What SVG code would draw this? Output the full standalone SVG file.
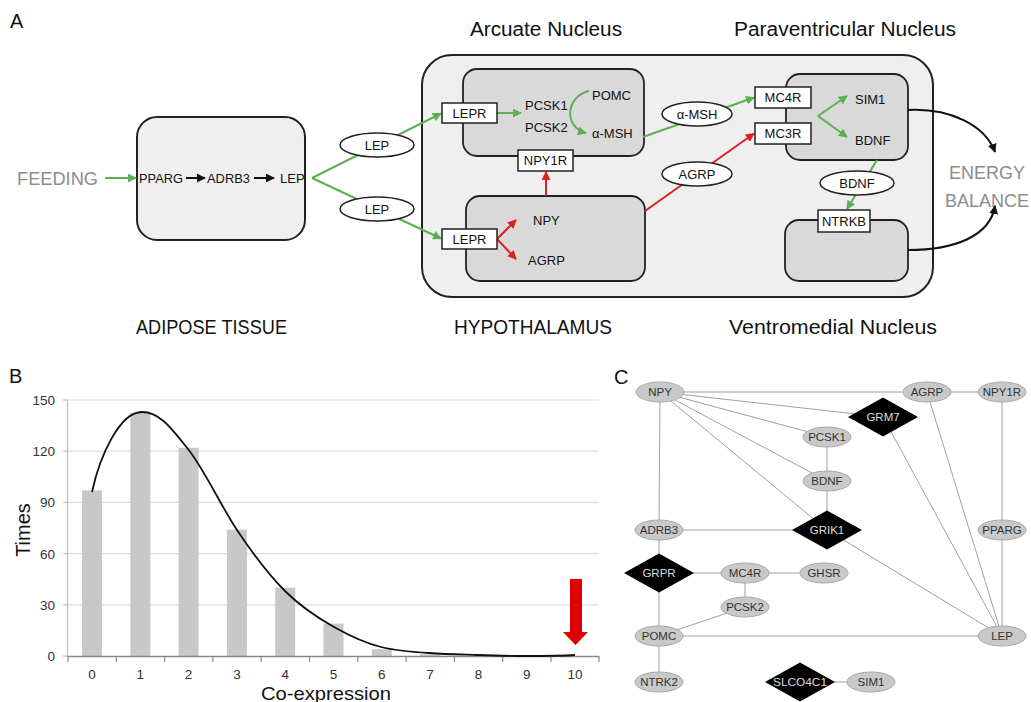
<svg xmlns="http://www.w3.org/2000/svg" width="1031" height="702" viewBox="0 0 1031 702">
<defs>
<style>
text{font-family:"Liberation Sans",Arial,sans-serif;}
.lbl{font-size:13px;fill:#111;}
.ttl{font-size:20px;fill:#111;}
.gry{font-size:18px;fill:#8c8c8c;}
.pan{font-size:20px;fill:#111;}
.big{fill:#efefef;stroke:#222;stroke-width:2;}
.cell{fill:#d9d9d9;stroke:#222;stroke-width:1.8;}
.rec{fill:#fff;stroke:#222;stroke-width:1.5;}
.ell{fill:#fff;stroke:#222;stroke-width:1.5;}
.g{stroke:#5bb04f;stroke-width:2;fill:none;}
.r{stroke:#e02020;stroke-width:2;fill:none;}
.k{stroke:#111;stroke-width:2;fill:none;}
.grid{stroke:#dcdcdc;stroke-width:1.2;}
.bar{fill:#c8c8c8;}
.tk{font-size:13.5px;fill:#333;}
.cn{fill:#c9c9c9;stroke:#a8a8a8;stroke-width:1;}
.cd{fill:#000;}
.ct{font-size:11.5px;fill:#333;text-anchor:middle;}
.cdt{font-size:11.5px;fill:#ddd;text-anchor:middle;}
.ce{stroke:#a0a0a0;stroke-width:1;fill:none;}
</style>
<marker id="ag" viewBox="0 0 10 10" refX="9" refY="5" markerWidth="4.5" markerHeight="4.5" orient="auto" markerUnits="strokeWidth"><path d="M0,0 L10,5 L0,10 z" fill="#5bb04f"/></marker>
<marker id="ar" viewBox="0 0 10 10" refX="9" refY="5" markerWidth="4.5" markerHeight="4.5" orient="auto" markerUnits="strokeWidth"><path d="M0,0 L10,5 L0,10 z" fill="#e02020"/></marker>
<marker id="ak" viewBox="0 0 10 10" refX="9" refY="5" markerWidth="4.5" markerHeight="4.5" orient="auto" markerUnits="strokeWidth"><path d="M0,0 L10,5 L0,10 z" fill="#111"/></marker>
</defs>

<!-- Panel A -->
<g id="panelA">
<text class="pan" x="10" y="28">A</text>
<text class="ttl" x="470" y="36" textLength="152" lengthAdjust="spacingAndGlyphs">Arcuate Nucleus</text>
<text class="ttl" x="734" y="36" textLength="222" lengthAdjust="spacingAndGlyphs">Paraventricular Nucleus</text>
<text class="ttl" x="136" y="334" textLength="151" lengthAdjust="spacingAndGlyphs">ADIPOSE TISSUE</text>
<text class="ttl" x="454" y="334" textLength="158" lengthAdjust="spacingAndGlyphs">HYPOTHALAMUS</text>
<text class="ttl" x="729" y="334" textLength="208" lengthAdjust="spacingAndGlyphs">Ventromedial Nucleus</text>

<g id="feeding"><text class="gry" x="17" y="184.5" textLength="81" lengthAdjust="spacingAndGlyphs">FEEDING</text></g>
<g id="energy"><text class="gry" x="987" y="178.5" text-anchor="middle">ENERGY</text><text class="gry" x="987" y="206.5" text-anchor="middle">BALANCE</text></g>

<g id="adipose">
<rect class="big" x="137" y="117" width="168" height="123" rx="20"/>
<text class="lbl" x="139" y="182.7" textLength="44" lengthAdjust="spacingAndGlyphs">PPARG</text>
<text class="lbl" x="207" y="182.7" textLength="43" lengthAdjust="spacingAndGlyphs">ADRB3</text>
<text class="lbl" x="280" y="182.7">LEP</text>
</g>

<g id="hypothalamus"><rect class="big" x="422" y="55" width="511" height="242" rx="30"/></g>

<g id="pomcNeuron">
<rect class="cell" x="463" y="69" width="181" height="87" rx="14"/>
<text class="lbl" x="525" y="109.5">PCSK1</text>
<text class="lbl" x="525" y="131.5">PCSK2</text>
<text class="lbl" x="592" y="99.5">POMC</text>
<text class="lbl" x="592" y="138">α-MSH</text>
</g>
<g id="npyNeuron">
<rect class="cell" x="466" y="196" width="179" height="85" rx="14"/>
<text class="lbl" x="533" y="224.5">NPY</text>
<text class="lbl" x="528" y="264.5">AGRP</text>
</g>
<g id="pvn">
<rect class="cell" x="786" y="74" width="122" height="86" rx="14"/>
<text class="lbl" x="855" y="103.5">SIM1</text>
<text class="lbl" x="855" y="144.5">BDNF</text>
</g>
<g id="vmn"><rect class="cell" x="785" y="220" width="123" height="61" rx="14"/></g>

<g id="connectorsA">
<line class="g" x1="105" y1="178" x2="136" y2="178" marker-end="url(#ag)"/>
<line class="k" x1="186" y1="178" x2="205" y2="178" marker-end="url(#ak)"/>
<line class="k" x1="254" y1="178" x2="274" y2="178" marker-end="url(#ak)"/>
<line class="g" x1="312" y1="178" x2="441" y2="113.5" marker-end="url(#ag)"/>
<line class="g" x1="312" y1="178" x2="441" y2="238.5" marker-end="url(#ag)"/>
<line class="g" x1="497" y1="113" x2="521" y2="113" marker-end="url(#ag)"/>
<path class="g" d="M589,91 C566,96 563,127 586,133" marker-end="url(#ag)"/>
<line class="g" x1="643" y1="137" x2="754" y2="97.5" marker-end="url(#ag)"/>
<line class="r" x1="645" y1="211" x2="754" y2="133.5" marker-end="url(#ar)"/>
<line class="r" x1="497" y1="239" x2="516" y2="220" marker-end="url(#ar)"/>
<line class="r" x1="497" y1="239" x2="516" y2="259" marker-end="url(#ar)"/>
<line class="r" x1="546" y1="196" x2="546" y2="172" marker-end="url(#ar)"/>
<line class="g" x1="818" y1="116" x2="847" y2="96" marker-end="url(#ag)"/>
<line class="g" x1="818" y1="116" x2="847" y2="137" marker-end="url(#ag)"/>
<line class="g" x1="877" y1="160" x2="847" y2="209" marker-end="url(#ag)"/>
<path class="k" d="M908,110 C950,108 985,125 995,152" marker-end="url(#ak)"/>
<path class="k" d="M908,250 C955,250 990,236 995,206" marker-end="url(#ak)"/>
</g>

<g id="lepr1"><rect class="rec" x="442" y="103" width="55" height="20"/><text class="lbl" x="469.5" y="117.7" text-anchor="middle">LEPR</text></g>
<g id="lepr2"><rect class="rec" x="442" y="229" width="55" height="20"/><text class="lbl" x="469.5" y="243.7" text-anchor="middle">LEPR</text></g>
<g id="npy1r"><rect class="rec" x="518" y="150" width="55" height="21"/><text class="lbl" x="545.5" y="165.2" text-anchor="middle">NPY1R</text></g>
<g id="mc4r"><rect class="rec" x="755" y="87" width="56" height="21"/><text class="lbl" x="783" y="102.2" text-anchor="middle">MC4R</text></g>
<g id="mc3r"><rect class="rec" x="755" y="123" width="56" height="21"/><text class="lbl" x="783" y="138.2" text-anchor="middle">MC3R</text></g>
<g id="ntrkb"><rect class="rec" x="818" y="210" width="52" height="22"/><text class="lbl" x="844" y="225.7" text-anchor="middle">NTRKB</text></g>

<g id="lepE1"><ellipse class="ell" cx="377" cy="145" rx="37" ry="12"/><text class="lbl" x="377" y="149.7" text-anchor="middle">LEP</text></g>
<g id="lepE2"><ellipse class="ell" cx="377" cy="209" rx="37" ry="12"/><text class="lbl" x="377" y="213.7" text-anchor="middle">LEP</text></g>
<g id="mshE"><ellipse class="ell" cx="697" cy="114" rx="35" ry="12"/><text class="lbl" x="697" y="118.7" text-anchor="middle">α-MSH</text></g>
<g id="agrpE"><ellipse class="ell" cx="697" cy="174" rx="35" ry="12"/><text class="lbl" x="697" y="178.7" text-anchor="middle">AGRP</text></g>
<g id="bdnfE"><ellipse class="ell" cx="857" cy="183" rx="37" ry="12"/><text class="lbl" x="857" y="187.7" text-anchor="middle">BDNF</text></g>
</g>

<!-- Panel B -->
<g id="panelB">
<text class="pan" x="9" y="383">B</text>
<g id="gridB">
<line class="grid" x1="68" y1="400" x2="599" y2="400"/>
<line class="grid" x1="68" y1="451.2" x2="599" y2="451.2"/>
<line class="grid" x1="68" y1="502.4" x2="599" y2="502.4"/>
<line class="grid" x1="68" y1="553.6" x2="599" y2="553.6"/>
<line class="grid" x1="68" y1="604.8" x2="599" y2="604.8"/>
<line x1="67.5" y1="400" x2="67.5" y2="656" stroke="#bdbdbd" stroke-width="1.2"/>
<g stroke="#bdbdbd" stroke-width="1.2">
<line x1="63" y1="400" x2="68" y2="400"/><line x1="63" y1="451.2" x2="68" y2="451.2"/><line x1="63" y1="502.4" x2="68" y2="502.4"/><line x1="63" y1="553.6" x2="68" y2="553.6"/><line x1="63" y1="604.8" x2="68" y2="604.8"/><line x1="63" y1="656" x2="68" y2="656"/>
</g>
</g>
<g id="barsB">
<rect class="bar" x="82" y="490.4" width="20" height="165.6"/>
<rect class="bar" x="130.3" y="412.8" width="20" height="243.2"/>
<rect class="bar" x="178.6" y="447.8" width="20" height="208.2"/>
<rect class="bar" x="226.9" y="529.7" width="20" height="126.3"/>
<rect class="bar" x="275.2" y="587.7" width="20" height="68.3"/>
<rect class="bar" x="323.5" y="623.6" width="20" height="32.4"/>
<rect class="bar" x="371.8" y="649.2" width="20" height="6.8"/>
<rect class="bar" x="420.1" y="654.3" width="20" height="1.7"/>
</g>
<g id="axisB">
<line x1="67" y1="656.5" x2="599" y2="656.5" stroke="#8a8a8a" stroke-width="1.5"/>
<g stroke="#8a8a8a" stroke-width="1.2">
<line x1="68" y1="656" x2="68" y2="662"/><line x1="116.3" y1="656" x2="116.3" y2="662"/><line x1="164.6" y1="656" x2="164.6" y2="662"/><line x1="212.9" y1="656" x2="212.9" y2="662"/><line x1="261.2" y1="656" x2="261.2" y2="662"/><line x1="309.5" y1="656" x2="309.5" y2="662"/><line x1="357.8" y1="656" x2="357.8" y2="662"/><line x1="406.1" y1="656" x2="406.1" y2="662"/><line x1="454.4" y1="656" x2="454.4" y2="662"/><line x1="502.7" y1="656" x2="502.7" y2="662"/><line x1="551" y1="656" x2="551" y2="662"/><line x1="599" y1="656" x2="599" y2="662"/>
</g>
<g class="tk" text-anchor="end">
<text x="55" y="405">150</text><text x="55" y="456.2">120</text><text x="55" y="507.4">90</text><text x="55" y="558.6">60</text><text x="55" y="609.8">30</text><text x="55" y="661">0</text>
</g>
<g class="tk" text-anchor="middle">
<text x="92" y="679">0</text><text x="140.3" y="679">1</text><text x="188.6" y="679">2</text><text x="236.9" y="679">3</text><text x="285.2" y="679">4</text><text x="333.5" y="679">5</text><text x="381.8" y="679">6</text><text x="430.1" y="679">7</text><text x="478.4" y="679">8</text><text x="526.7" y="679">9</text><text x="575" y="679">10</text>
</g>
<text x="29.5" y="530" transform="rotate(-90 29.5 530)" text-anchor="middle" style="font-size:20px;fill:#111">Times</text>
<text x="326" y="700" text-anchor="middle" style="font-size:19px;fill:#111" textLength="130" lengthAdjust="spacingAndGlyphs">Co-expression</text>
</g>
<path id="curveB" fill="none" stroke="#111" stroke-width="1.8" d="M92,492 C100,455 120,412 142,412 C160,412 172,429 188,449 C204,469 221,506 237,530 C253,554 269,575 285,591 C301,607 318,618 334,627 C350,636 365,643 381,647 C397,651 413,652 429,653 C445,654.3 461,654.5 477,655 C493,655.5 510,656 526,656 C542,656 560,656 575,655"/>
<polygon id="redArrow" fill="#dd0000" points="570,579 582,579 582,632 588,632 575.5,645 563,632 570,632"/>
</g>

<!-- Panel C -->
<g id="panelC">
<text class="pan" x="614" y="384">C</text>
<g id="edgesC">
<line class="ce" x1="660" y1="392" x2="927" y2="392"/>
<line class="ce" x1="927" y1="392" x2="1002" y2="392"/>
<line class="ce" x1="660" y1="392" x2="883" y2="417"/>
<line class="ce" x1="660" y1="392" x2="827" y2="437"/>
<line class="ce" x1="660" y1="392" x2="827" y2="481"/>
<line class="ce" x1="660" y1="392" x2="827" y2="530"/>
<line class="ce" x1="660" y1="392" x2="659" y2="530"/>
<line class="ce" x1="827" y1="437" x2="827" y2="481"/>
<line class="ce" x1="827" y1="481" x2="827" y2="530"/>
<line class="ce" x1="659" y1="530" x2="827" y2="530"/>
<line class="ce" x1="659" y1="530" x2="659" y2="573"/>
<line class="ce" x1="659" y1="573" x2="745" y2="573"/>
<line class="ce" x1="745" y1="573" x2="824" y2="573"/>
<line class="ce" x1="745" y1="573" x2="745" y2="607"/>
<line class="ce" x1="659" y1="573" x2="659" y2="636"/>
<line class="ce" x1="745" y1="607" x2="659" y2="636"/>
<line class="ce" x1="659" y1="636" x2="1002" y2="636"/>
<line class="ce" x1="659" y1="636" x2="659" y2="682"/>
<line class="ce" x1="827" y1="530" x2="1002" y2="636"/>
<line class="ce" x1="883" y1="417" x2="1002" y2="636"/>
<line class="ce" x1="927" y1="392" x2="1002" y2="636"/>
<line class="ce" x1="1002" y1="392" x2="1002" y2="530"/>
<line class="ce" x1="1002" y1="530" x2="1002" y2="636"/>
<line class="ce" x1="800" y1="682" x2="871" y2="682"/>
</g>
<g id="c-NPY"><ellipse class="cn" cx="660" cy="392" rx="24" ry="10"/><text class="ct" x="660" y="396">NPY</text></g>
<g id="c-AGRP"><ellipse class="cn" cx="927" cy="392" rx="24" ry="10"/><text class="ct" x="927" y="396">AGRP</text></g>
<g id="c-NPY1R"><ellipse class="cn" cx="1002" cy="392" rx="24" ry="10"/><text class="ct" x="1002" y="396">NPY1R</text></g>
<g id="c-GRM7"><polygon class="cd" points="848,417 883,397.5 918,417 883,436.5"/><text class="cdt" x="883" y="421">GRM7</text></g>
<g id="c-PCSK1"><ellipse class="cn" cx="827" cy="437" rx="24" ry="10"/><text class="ct" x="827" y="441">PCSK1</text></g>
<g id="c-BDNF"><ellipse class="cn" cx="827" cy="481" rx="24" ry="10"/><text class="ct" x="827" y="485">BDNF</text></g>
<g id="c-GRIK1"><polygon class="cd" points="792,530 827,510.5 862,530 827,549.5"/><text class="cdt" x="827" y="534">GRIK1</text></g>
<g id="c-ADRB3"><ellipse class="cn" cx="659" cy="530" rx="24" ry="10"/><text class="ct" x="659" y="534">ADRB3</text></g>
<g id="c-PPARG"><ellipse class="cn" cx="1002" cy="530" rx="24" ry="10"/><text class="ct" x="1002" y="534">PPARG</text></g>
<g id="c-GRPR"><polygon class="cd" points="624,573 659,553.5 694,573 659,592.5"/><text class="cdt" x="659" y="577">GRPR</text></g>
<g id="c-MC4R"><ellipse class="cn" cx="745" cy="573" rx="24" ry="10"/><text class="ct" x="745" y="577">MC4R</text></g>
<g id="c-GHSR"><ellipse class="cn" cx="824" cy="573" rx="24" ry="10"/><text class="ct" x="824" y="577">GHSR</text></g>
<g id="c-PCSK2"><ellipse class="cn" cx="745" cy="607" rx="24" ry="10"/><text class="ct" x="745" y="611">PCSK2</text></g>
<g id="c-POMC"><ellipse class="cn" cx="659" cy="636" rx="24" ry="10"/><text class="ct" x="659" y="640">POMC</text></g>
<g id="c-LEP"><ellipse class="cn" cx="1002" cy="636" rx="24" ry="10"/><text class="ct" x="1002" y="640">LEP</text></g>
<g id="c-NTRK2"><ellipse class="cn" cx="659" cy="682" rx="24" ry="10"/><text class="ct" x="659" y="686">NTRK2</text></g>
<g id="c-SLCO4C1"><polygon class="cd" points="765,682 800,662.5 835,682 800,701.5"/><text class="cdt" x="800" y="686" textLength="54" lengthAdjust="spacingAndGlyphs">SLCO4C1</text></g>
<g id="c-SIM1"><ellipse class="cn" cx="871" cy="682" rx="24" ry="10"/><text class="ct" x="871" y="686">SIM1</text></g>
</g>
</svg>
